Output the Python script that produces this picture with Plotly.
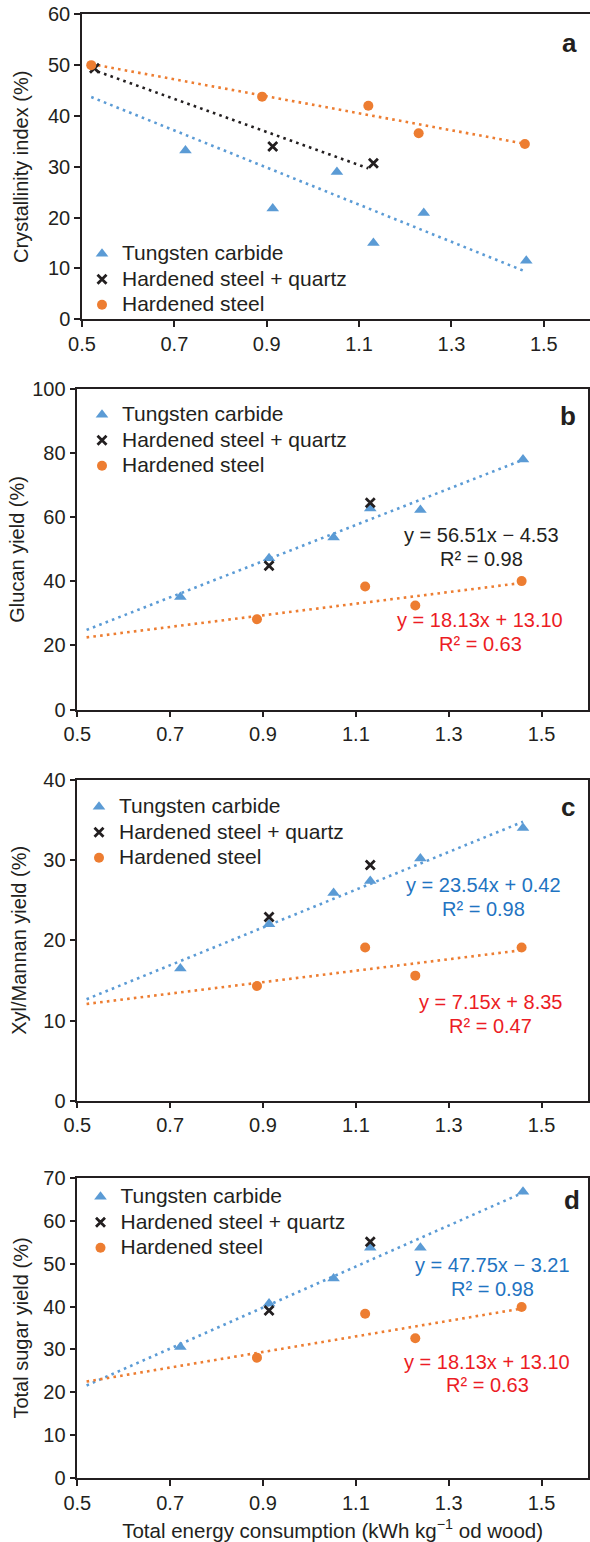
import plotly.graph_objects as go
import numpy as np

W, H = 590, 1542

# ---------------- data ----------------
# panel a: crystallinity index (%)
tc_x_a = [0.724, 0.913, 1.052, 1.131, 1.240, 1.462]
tc_y_a = [33.2, 21.8, 29.0, 15.0, 20.9, 11.5]
hq_x_a = [0.527, 0.913, 1.131]
hq_y_a = [49.4, 34.0, 30.7]
hs_x_a = [0.520, 0.890, 1.120, 1.229, 1.459]
hs_y_a = [50.0, 43.8, 42.0, 36.6, 34.5]

# panels b-d share energy values
tc_x = [0.722, 0.913, 1.052, 1.131, 1.239, 1.460]
hq_x = [0.913, 1.131]
hs_x = [0.887, 1.120, 1.228, 1.457]

glucan_tc = [35.1, 47.2, 53.7, 62.8, 62.3, 78.1]
glucan_hq = [44.9, 64.6]
glucan_hs = [28.2, 38.4, 32.5, 40.1]

xyl_tc = [16.5, 22.0, 25.9, 27.4, 30.2, 34.0]
xyl_hq = [22.9, 29.4]
xyl_hs = [14.3, 19.1, 15.6, 19.1]

sugar_tc = [30.6, 40.7, 46.5, 53.7, 53.7, 66.7]
sugar_hq = [39.1, 55.1]
sugar_hs = [28.1, 38.3, 32.6, 39.9]

# linear trend lines: (slope, intercept, x_start, x_end)
trend_a_tc = (-36.5, 62.7, 0.52, 1.46)
trend_a_hq = (-32.5, 66.1, 0.52, 1.12)
trend_a_hs = (-16.7, 58.9, 0.52, 1.46)
trend_b_tc = (56.51, -4.53, 0.52, 1.46)
trend_b_hs = (18.13, 13.10, 0.52, 1.46)
trend_c_tc = (23.54, 0.42, 0.52, 1.46)
trend_c_hs = (7.15, 8.35, 0.52, 1.46)
trend_d_tc = (47.75, -3.21, 0.52, 1.46)
trend_d_hs = (18.13, 13.10, 0.52, 1.46)

series_names = ["Tungsten carbide", "Hardened steel + quartz", "Hardened steel"]
y_titles = ["Crystallinity index (%)", "Glucan yield (%)", "Xyl/Mannan yield (%)", "Total sugar yield (%)"]
y_ranges = [(0, 60, 10), (0, 100, 20), (0, 40, 10), (0, 70, 10)]
panel_letters = ["a", "b", "c", "d"]
x_tickvals = [0.5, 0.7, 0.9, 1.1, 1.3, 1.5]
x_title = "Total energy consumption (kWh kg<sup>\u22121</sup> od wood)"

# ---------------- styles ----------------
BLUE = "#5B9BD5"
ORANGE = "#ED7D31"
BLACK = "#231F20"
EQ_BLUE = "#1F74C2"
EQ_RED = "#EC1C24"
EQ_BLACK = "#231F20"
FONT = "Liberation Sans, Arial, sans-serif"

def px_x(p):
    return p / W

def px_y(p):
    return 1 - p / H

# panel plot areas in pixels: (left, right, top, bottom)
boxes = [
    (82, 590, 14.3, 319.3),
    (77.3, 588, 389.3, 709.5),
    (77.3, 588, 780, 1100.7),
    (77.3, 588, 1177.7, 1478.3),
]

fig = go.Figure()

panels = [
    (tc_x_a, tc_y_a, hq_x_a, hq_y_a, hs_x_a, hs_y_a, [(trend_a_tc, BLUE), (trend_a_hq, BLACK), (trend_a_hs, ORANGE)]),
    (tc_x, glucan_tc, hq_x, glucan_hq, hs_x, glucan_hs, [(trend_b_tc, BLUE), (trend_b_hs, ORANGE)]),
    (tc_x, xyl_tc, hq_x, xyl_hq, hs_x, xyl_hs, [(trend_c_tc, BLUE), (trend_c_hs, ORANGE)]),
    (tc_x, sugar_tc, hq_x, sugar_hq, hs_x, sugar_hs, [(trend_d_tc, BLUE), (trend_d_hs, ORANGE)]),
]

legend_pos = [(102, 254), (102, 415), (99, 807), (100.5, 1197)]
LEG_SPAN = '<span style="font-size:21px">{}</span>'

for i, (tx, ty, qx, qy, sx, sy, trends) in enumerate(panels):
    n = "" if i == 0 else str(i + 1)
    xa, ya = "x" + n, "y" + n
    lg = "legend" + n
    for (m, b, x0, x1), col in trends:
        xs = np.array([x0, x1])
        fig.add_trace(go.Scatter(x=xs, y=m * xs + b, mode="lines", xaxis=xa, yaxis=ya,
                                 line=dict(color=col, width=2.6, dash="2.6px,4.2px"),
                                 showlegend=False, hoverinfo="skip"))
    fig.add_trace(go.Scatter(x=tx, y=ty, mode="markers", name=LEG_SPAN.format(series_names[0]),
                             xaxis=xa, yaxis=ya, legend=lg,
                             marker=dict(symbol="triangle-up", size=11, color=BLUE)))
    fig.add_trace(go.Scatter(x=qx, y=qy, mode="markers", name=LEG_SPAN.format(series_names[1]),
                             xaxis=xa, yaxis=ya, legend=lg,
                             marker=dict(symbol="x-thin", size=9, color=BLACK,
                                         line=dict(width=2.8, color=BLACK))))
    fig.add_trace(go.Scatter(x=sx, y=sy, mode="markers", name=LEG_SPAN.format(series_names[2]),
                             xaxis=xa, yaxis=ya, legend=lg,
                             marker=dict(symbol="circle", size=10, color=ORANGE)))

layout = dict(
    width=W, height=H,
    margin=dict(l=0, r=0, t=0, b=0, autoexpand=False),
    paper_bgcolor="white", plot_bgcolor="white",
    font=dict(family=FONT, size=20, color=BLACK),
    showlegend=True,
)

axis_common = dict(showline=True, mirror=True, linecolor=BLACK, linewidth=1.5,
                   ticks="outside", ticklen=6, tickwidth=1.5, tickcolor=BLACK,
                   showgrid=False, zeroline=False, automargin=False,
                   tickfont=dict(size=20, color=BLACK))

standoffs = [14, 2, 11, 9]
for i, (l, r, t, b) in enumerate(boxes):
    n = "" if i == 0 else str(i + 1)
    lo, hi, dt = y_ranges[i]
    xdict = dict(axis_common, domain=[px_x(l), px_x(r)], range=[0.5, 1.6],
                 tickvals=x_tickvals, ticktext=[f"{v:.1f}" for v in x_tickvals],
                 anchor="y" + n)
    if i == 3:
        xdict["title"] = dict(text=x_title, font=dict(size=20.5, color=BLACK), standoff=12)
    ydict = dict(axis_common, domain=[px_y(b), px_y(t)], range=[lo, hi], dtick=dt,
                 tick0=0, anchor="x" + n,
                 title=dict(text=y_titles[i], font=dict(size=20, color=BLACK), standoff=standoffs[i]))
    layout["xaxis" + n] = xdict
    layout["yaxis" + n] = ydict
    lx, ly = legend_pos[i]
    layout["legend" + n] = dict(x=px_x(lx - 20), y=px_y(ly - 18), xanchor="left", yanchor="top",
                                bgcolor="rgba(0,0,0,0)", font=dict(size=17.3, color=BLACK),
                                tracegroupgap=0, itemclick=False)

annotations = []
letter_pos = [(569, 43), (568, 416), (568, 807), (572, 1200)]
for (x, y), letter in zip(letter_pos, panel_letters):
    annotations.append(dict(x=px_x(x), y=px_y(y), xref="paper", yref="paper", text=f"<b>{letter}</b>",
                            showarrow=False, font=dict(size=26, color=BLACK), xanchor="center", yanchor="middle"))

eq_texts = [
    ("y = 56.51x \u2212 4.53", 481, 535, EQ_BLACK),
    ("R\u00b2 = 0.98", 481, 559, EQ_BLACK),
    ("y = 18.13x + 13.10", 480, 620, EQ_RED),
    ("R\u00b2 = 0.63", 480, 644, EQ_RED),
    ("y = 23.54x + 0.42", 483, 885, EQ_BLUE),
    ("R\u00b2 = 0.98", 483, 909, EQ_BLUE),
    ("y = 7.15x + 8.35", 490, 1002, EQ_RED),
    ("R\u00b2 = 0.47", 490, 1026, EQ_RED),
    ("y = 47.75x \u2212 3.21", 492, 1265, EQ_BLUE),
    ("R\u00b2 = 0.98", 492, 1289, EQ_BLUE),
    ("y = 18.13x + 13.10", 487, 1362, EQ_RED),
    ("R\u00b2 = 0.63", 487, 1385, EQ_RED),
]
for txt, x, y, col in eq_texts:
    annotations.append(dict(x=px_x(x), y=px_y(y), xref="paper", yref="paper", text=txt,
                            showarrow=False, font=dict(size=20, color=col), xanchor="center", yanchor="middle"))
layout["annotations"] = annotations

fig.update_layout(**layout)
fig.write_html("out.html", config={"displayModeBar": False},
               post_script="document.body.style.margin='0px';document.body.style.padding='0px';")
